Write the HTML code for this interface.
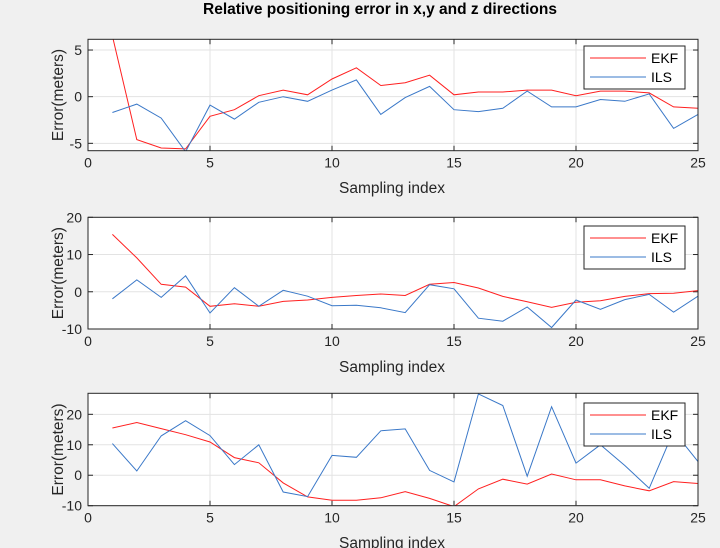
<!DOCTYPE html>
<html><head><meta charset="utf-8">
<style>
html,body{margin:0;padding:0;background:#f0f0f0;}
svg{display:block;font-family:"Liberation Sans",Arial,sans-serif;}
</style></head>
<body>
<svg id="fig" width="720" height="548" viewBox="0 0 720 548">
<text x="380" y="14" text-anchor="middle" font-size="15.5" font-weight="bold" fill="#000">Relative positioning error in x,y and z directions</text>
</svg>
<script>
const indices = [1,2,3,4,5,6,7,8,9,10,11,12,13,14,15,16,17,18,19,20,21,22,23,24,25];
const ekfX = [6.5,-4.6,-5.5,-5.6,-2.1,-1.4,0.1,0.7,0.2,1.9,3.1,1.2,1.5,2.3,0.2,0.5,0.5,0.7,0.7,0.1,0.6,0.6,0.4,-1.1,-1.25];
const ilsX = [-1.7,-0.8,-2.3,-5.9,-0.9,-2.4,-0.6,0,-0.5,0.7,1.8,-1.9,-0.1,1.1,-1.4,-1.6,-1.25,0.6,-1.1,-1.1,-0.3,-0.5,0.3,-3.4,-1.9];
const ekfY = [15.4,9.1,2.0,1.25,-3.9,-3.2,-3.9,-2.6,-2.2,-1.5,-1.0,-0.6,-1.0,2.0,2.5,1.0,-1.25,-2.7,-4.2,-2.8,-2.4,-1.25,-0.5,-0.4,0.3];
const ilsY = [-1.9,3.2,-1.5,4.3,-5.7,1.1,-3.9,0.4,-1.2,-3.75,-3.6,-4.3,-5.6,1.9,0.8,-7.1,-7.9,-4.1,-9.6,-2.2,-4.7,-2.1,-0.7,-5.5,-1.2];
const ekfZ = [15.5,17.3,15.3,13.3,10.9,5.8,4.1,-2.5,-7.1,-8.2,-8.2,-7.4,-5.4,-7.6,-10.3,-4.5,-1.3,-2.9,0.4,-1.5,-1.5,-3.5,-5.1,-2.1,-2.7];
const ilsZ = [10.4,1.4,12.9,17.9,13.0,3.5,10.0,-5.5,-7.0,6.5,5.9,14.6,15.2,1.6,-2.2,26.7,22.9,-0.3,22.5,4.0,10.0,3.2,-4.3,14.5,4.5];
const xTicks = [0,5,10,15,20,25];
const yTicks1 = [-5,0,5];
const yTicks2 = [-10,0,10,20];
const yTicks3 = [-10,0,10,20];

const NS="http://www.w3.org/2000/svg";
const svg=document.getElementById('fig');
function mk(tag,attrs,parent){const e=document.createElementNS(NS,tag);for(const k in attrs)e.setAttribute(k,attrs[k]);(parent||svg).appendChild(e);return e;}

const panels=[
 {name:'x',top:39.3,bottom:150.7,ymin:-5.79,ymax:6.15,yt:yTicks1,ekf:ekfX,ils:ilsX,leg:46,xl:188},
 {name:'y',top:217.3,bottom:329,ymin:-10,ymax:20,yt:yTicks2,ekf:ekfY,ils:ilsY,leg:226,xl:367},
 {name:'z',top:393.3,bottom:505.7,ymin:-10,ymax:26.9,yt:yTicks3,ekf:ekfZ,ils:ilsZ,leg:403,xl:543}
];
const L=88,R=698;
panels.forEach(p=>{
 const sx=v=>L+(v-0)/(25-0)*(R-L);
 const sy=v=>p.bottom-(v-p.ymin)/(p.ymax-p.ymin)*(p.bottom-p.top);
 const g=mk('g',{});
 
 
 const bg=mk('rect',{x:L,y:p.top,width:R-L,height:p.bottom-p.top,fill:'#fff'},g);
 
 
 const clipId='clip'+p.name;
 const cp=mk('clipPath',{id:clipId},g);
 mk('rect',{x:L,y:p.top,width:R-L,height:p.bottom-p.top},cp);
 xTicks.forEach(t=>{
  const x=sx(t);
  const gl=mk('line',{x1:x,x2:x,y1:p.top,y2:p.bottom,stroke:'#e3e3e3','stroke-width':1},g);
  
  
  mk('line',{x1:x,x2:x,y1:p.bottom,y2:p.bottom-5,stroke:'#262626'},g);
  mk('line',{x1:x,x2:x,y1:p.top,y2:p.top+5,stroke:'#262626'},g);
  const tl=mk('text',{x:x,y:p.bottom+17,'text-anchor':'middle','font-size':14,fill:'#262626'},g);
  tl.textContent=t;
  
  
 });
 p.yt.forEach(t=>{
  const y=sy(t);
  const gl=mk('line',{x1:L,x2:R,y1:y,y2:y,stroke:'#e3e3e3','stroke-width':1},g);
  
  
  mk('line',{x1:L,x2:L+5,y1:y,y2:y,stroke:'#262626'},g);
  mk('line',{x1:R,x2:R-5,y1:y,y2:y,stroke:'#262626'},g);
  const tl=mk('text',{x:L-6,y:y+5,'text-anchor':'end','font-size':14,fill:'#262626'},g);
  tl.textContent=t;
  
  
 });
 const mkLine=(vals,col,nm)=>{
  const pts=vals.map((v,i)=>sx(indices[i]).toFixed(1)+','+sy(v).toFixed(1)).join(' ');
  const pl=mk('polyline',{points:pts,fill:'none',stroke:col,'stroke-width':1,'clip-path':'url(#'+clipId+')'},g);
  
  
 };
 mkLine(p.ekf,'#ff2020','ekf-line-'+p.name);
 mkLine(p.ils,'#3a78c8','ils-line-'+p.name);
 const box=mk('rect',{x:L,y:p.top,width:R-L,height:p.bottom-p.top,fill:'none',stroke:'#262626','stroke-width':1},g);
 
 
 const lg=mk('g',{},g);
 
 
 mk('rect',{x:584,y:p.leg,width:101,height:43,fill:'#fff',stroke:'#262626','stroke-width':1},lg);
 const e1=mk('line',{x1:590,x2:646,y1:p.leg+12,y2:p.leg+12,stroke:'#ff2020'},lg);
 
 
 const t1=mk('text',{x:651,y:p.leg+17,'font-size':14,fill:'#000'},lg);
 t1.textContent='EKF';
 
 
 const e2=mk('line',{x1:590,x2:646,y1:p.leg+31,y2:p.leg+31,stroke:'#3a78c8'},lg);
 
 
 const t2=mk('text',{x:651,y:p.leg+36,'font-size':14,fill:'#000'},lg);
 t2.textContent='ILS';
 
 
 const xl=mk('text',{x:(L+R)/2-1,y:p.xl+5,'text-anchor':'middle','font-size':15.5,fill:'#262626'},g);
 xl.textContent='Sampling index';
 
 
 const cy=(p.top+p.bottom)/2;
 const yl=mk('text',{x:0,y:0,'text-anchor':'middle','font-size':15.5,fill:'#262626',transform:'translate(63,'+cy+') rotate(-90)'},g);
 yl.textContent='Error(meters)';
 
 
});
</script>
</body></html>
